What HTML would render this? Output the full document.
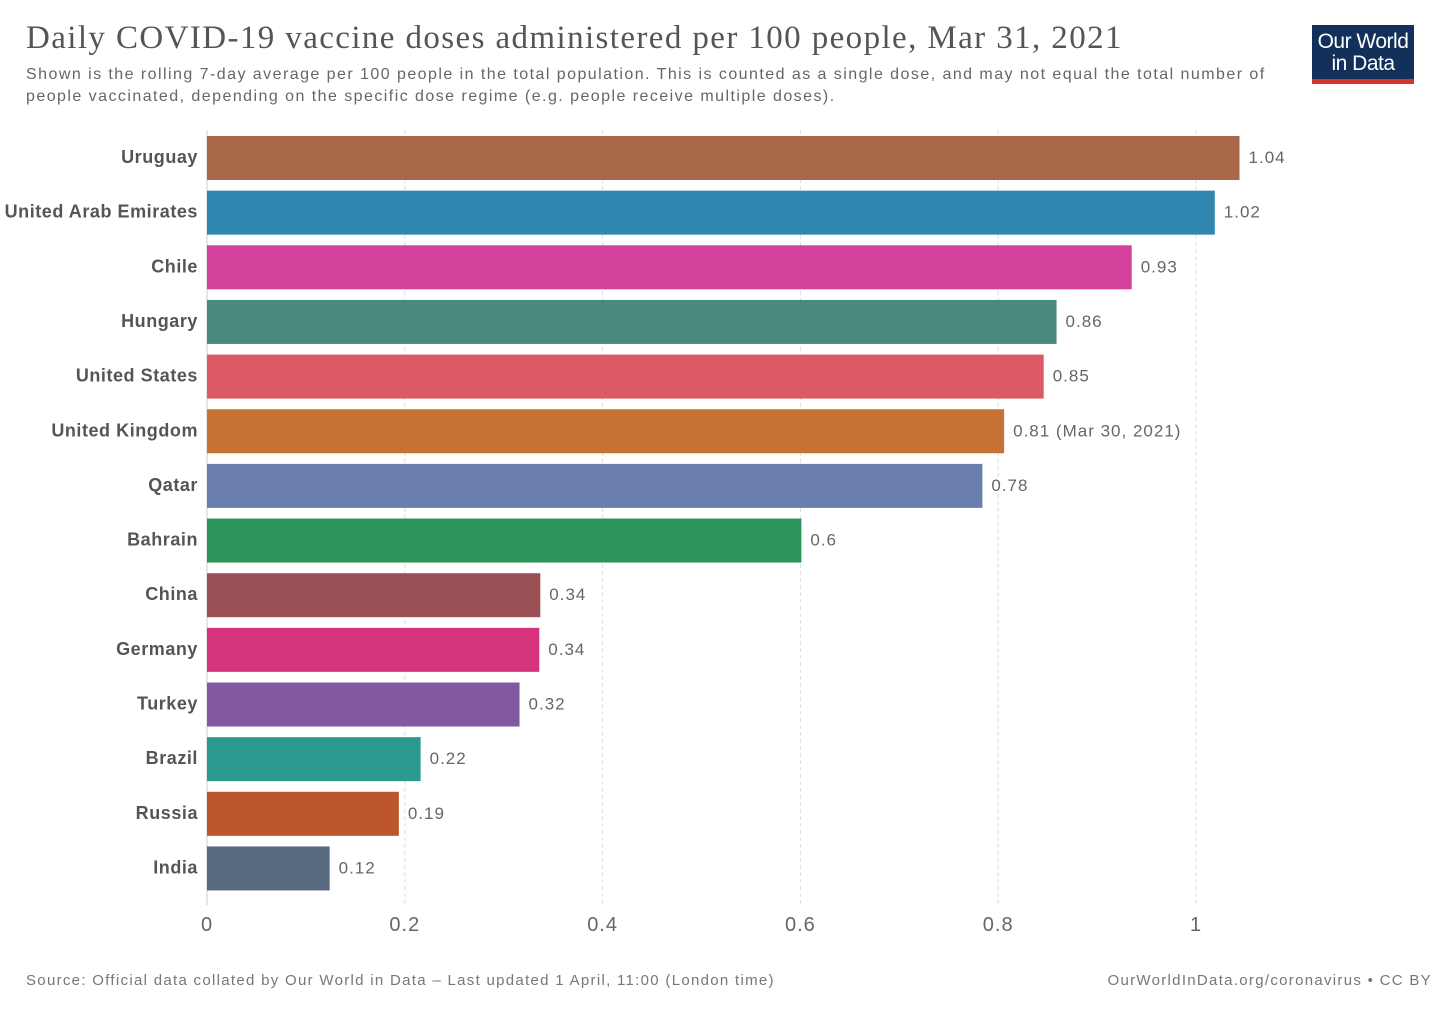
<!DOCTYPE html>
<html><head><meta charset="utf-8"><style>
body{margin:0;width:1440px;height:1009px;background:#fff;position:relative;overflow:hidden;font-family:"Liberation Sans",sans-serif;}
.t{position:absolute;}
</style></head><body>
<div class="t" style="left:26px;top:20px;font-family:'Liberation Serif',serif;font-size:33px;letter-spacing:1.4px;color:#555;white-space:nowrap;">Daily COVID-19 vaccine doses administered per 100 people, Mar 31, 2021</div>
<div class="t" style="left:26px;top:64px;width:1285px;font-size:16px;letter-spacing:1.45px;line-height:22px;color:#666;">Shown is the rolling 7-day average per 100 people in the total population. This is counted as a single dose, and may not equal the total number of people vaccinated, depending on the specific dose regime (e.g. people receive multiple doses).</div>
<div class="t" style="left:1312px;top:25px;width:102px;background:#12305a;border-bottom:5px solid #d6352a;color:#fff;font-size:21px;line-height:22px;text-align:center;padding-top:6px;box-sizing:content-box;height:48px;letter-spacing:-0.5px;">Our World<br>in Data</div>
<svg id="chart" width="1440" height="1009" style="position:absolute;left:0;top:0"></svg>
<div class="t" style="left:26px;top:972px;font-size:15px;letter-spacing:1.3px;color:#777;white-space:nowrap;">Source: Official data collated by Our World in Data – Last updated 1 April, 11:00 (London time)</div>
<div class="t" style="right:8px;top:972px;font-size:15px;letter-spacing:1.3px;color:#777;white-space:nowrap;">OurWorldInData.org/coronavirus • CC BY</div>
<script>
const categories=["Uruguay","United Arab Emirates","Chile","Hungary","United States","United Kingdom","Qatar","Bahrain","China","Germany","Turkey","Brazil","Russia","India"];
const values=[1.044,1.019,0.935,0.859,0.846,0.806,0.784,0.601,0.337,0.336,0.316,0.216,0.194,0.124];
const valueLabels=["1.04","1.02","0.93","0.86","0.85","0.81 (Mar 30, 2021)","0.78","0.6","0.34","0.34","0.32","0.22","0.19","0.12"];
const colors=["#a8694a","#2f87b0","#d3419a","#4a8a7c","#dc5a66","#c97236","#6a7fac","#2a9459","#9a4f55","#d5337b","#8259a0","#2a9a8e","#ba552c","#586a80"];
const ticks=[0,0.2,0.4,0.6,0.8,1];
const tickLabels=["0","0.2","0.4","0.6","0.8","1"];
const svg=document.getElementById('chart');const NS='http://www.w3.org/2000/svg';
const x=v=>207+v*989;
const y=i=>136+i*54.65;
const bh=44;
function mk(t,a){const e=document.createElementNS(NS,t);for(const k in a)e.setAttribute(k,a[k]);svg.appendChild(e);return e;}
ticks.forEach((t,i)=>{
 if(t>0){const g=mk('line',{x1:x(t),x2:x(t),y1:130,y2:905,stroke:'#ddd','stroke-dasharray':'4,3'});
 
 }
 const l=mk('text',{x:x(t),y:931,'text-anchor':'middle','font-size':20,'letter-spacing':1,fill:'#666','font-family':'Liberation Sans'});l.textContent=tickLabels[i];
 
 
});
mk('line',{x1:207,x2:207,y1:130,y2:905,stroke:'#ccc'});
categories.forEach((c,i)=>{
 const r=mk('rect',{x:x(0),y:y(i),width:x(values[i])-x(0),height:bh,fill:colors[i]});
 
 
 const n=mk('text',{x:198,y:y(i)+bh/2+5,'text-anchor':'end','font-size':18,'letter-spacing':0.55,'font-weight':'bold',fill:'#555','font-family':'Liberation Sans'});n.textContent=c;
 
 
 const v=mk('text',{x:x(values[i])+9,y:y(i)+bh/2+5,'font-size':17,'letter-spacing':1,fill:'#666','font-family':'Liberation Sans'});v.textContent=valueLabels[i];
 
 
});
</script>
</body></html>
